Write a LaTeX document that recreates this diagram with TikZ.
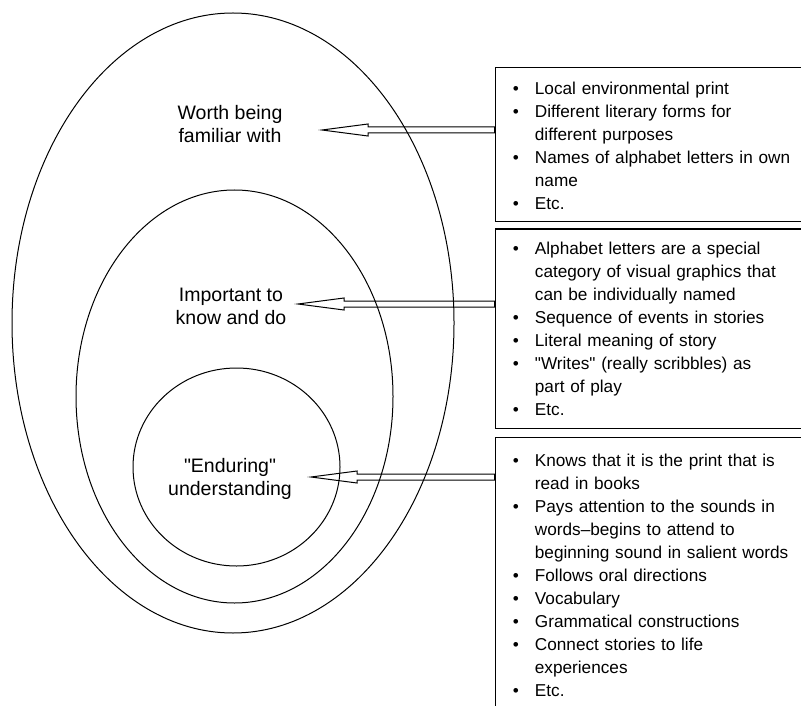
\documentclass[tikz,border=0pt]{standalone}
\usepackage{fontspec}
\setmainfont{Liberation Sans}
\usetikzlibrary{calc}

\tikzset{
  box/.style={draw, line width=0.6pt, anchor=north west, minimum width=170pt, inner sep=0pt},
  boxtext/.style={anchor=north west, text width=140pt, inner sep=0pt,
    font=\fontsize{8.6}{11.5}\selectfont},
  ringtext/.style={align=center, font=\fontsize{9.75}{11.5}\selectfont},
  hollow/.style={draw, line width=0.5pt, line join=miter}
}
\newcommand{\bitem}[1]{\par\noindent\hangindent=12.25pt\hangafter=1
  \makebox[12.25pt][l]{\hspace{1.2pt}\textbullet}#1\par}
% hollow arrow from the side of a box (#1) to its tip (#2)
\newcommand{\hollowarrow}[2]{%
  \draw[hollow] (#2) -- ($(#2)+(46,-6)$) -- ($(#2)+(46,-3)$) -- ($(#1)+(0,-3)$)
    -- ($(#1)+(0,3)$) -- ($(#2)+(46,3)$) -- ($(#2)+(46,6)$) -- cycle;}

\begin{document}
\begin{tikzpicture}[x=0.5pt, y=-0.5pt]
    \useasboundingbox (0,0) rectangle (801,705);

    \draw[line width=0.5pt] (233,323) ellipse [x radius=221, y radius=310];
    \draw[line width=0.5pt] (234.5,396.5) ellipse [x radius=158.5, y radius=206.5];
    \draw[line width=0.5pt] (236.5,467) ellipse [x radius=103.5, y radius=99];

    \node[ringtext] (worth) at (230,124) {Worth being\\familiar with};
    \node[ringtext] (important) at (231,306) {Important to\\know and do};
    \node[ringtext] (enduring) at (230,479) {\textquotedbl Enduring\textquotedbl\\understanding};

    \node[box, minimum height=77pt] (b1) at (494.5,67) {};
    \node[box, minimum height=99.5pt] (b2) at (494.5,228.5) {};
    \node[box, minimum height=140pt] (b3) at (494.5,436.5) {};

    \node[boxtext] (l1) at ($(b1.north west)+(15.5,4.5)$) {%
      \bitem{\strut Local environmental print}
      \bitem{Different literary forms for\newline different purposes}
      \bitem{Names of alphabet letters in own\newline name}
      \bitem{Etc.}};

    \node[boxtext] (l2) at ($(b2.north west)+(15.5,3)$) {%
      \bitem{\strut Alphabet letters are a special\newline category of visual graphics that\newline can be individually named}
      \bitem{Sequence of events in stories}
      \bitem{Literal meaning of story}
      \bitem{\textquotedbl Writes\textquotedbl\ (really scribbles) as\newline part of play}
      \bitem{Etc.}};

    \node[boxtext] (l3) at ($(b3.north west)+(15.5,6.5)$) {%
      \bitem{\strut Knows that it is the print that is\newline read in books}
      \bitem{Pays attention to the sounds in\newline words--begins to attend to\newline beginning sound in salient words}
      \bitem{Follows oral directions}
      \bitem{Vocabulary}
      \bitem{Grammatical constructions}
      \bitem{Connect stories to life\newline experiences}
      \bitem{Etc.}};

    \coordinate (t1) at (322,130);
    \coordinate (t2) at (298,304);
    \coordinate (t3) at (311,477);
    \coordinate (s1) at (b1.west |- t1);
    \coordinate (s2) at (b2.west |- t2);
    \coordinate (s3) at (b3.west |- t3);

    \hollowarrow{s1}{t1}
    \hollowarrow{s2}{t2}
    \hollowarrow{s3}{t3}
\end{tikzpicture}
\end{document}
